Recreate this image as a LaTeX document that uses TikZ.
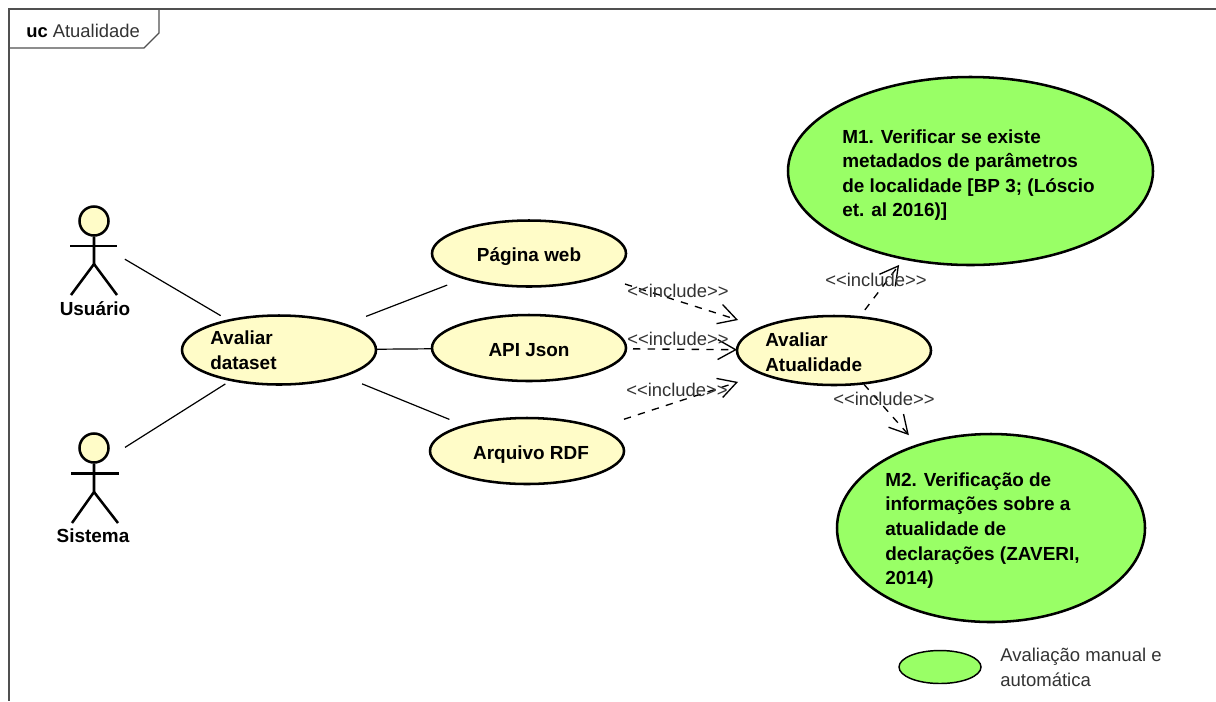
\documentclass[tikz,border=0pt]{standalone}
\usepackage{fontspec}
\setmainfont{Liberation Sans}
\usetikzlibrary{arrows.meta,shapes.geometric}
\newcommand{\px}[1]{#1*0.75pt}
\definecolor{ucyellow}{HTML}{FFFCC8}
\definecolor{ucgreen}{HTML}{99FF66}
\definecolor{frameline}{HTML}{505050}
\definecolor{thintext}{HTML}{333333}
\tikzset{
  usecase/.style={ellipse,draw=black,line width=1.9pt,fill=ucyellow,inner sep=0pt,outer sep=0pt,
    minimum width=\px{194},minimum height=\px{66},text height=12pt,text depth=0pt,font=\fontsize{14.2}{18}\selectfont\bfseries},
  metric/.style={ellipse,draw=black,line width=1.9pt,fill=ucgreen,inner sep=0pt,outer sep=0pt},
  boldtext/.style={anchor=west,align=left,inner sep=0pt,font=\fontsize{14.2}{18.5}\selectfont\bfseries},
  actorhead/.style={circle,draw=black,line width=1.9pt,fill=ucyellow,inner sep=0pt,minimum size=\px{29}},
  actorline/.style={draw=black,line width=1.9pt},
  actorbox/.style={inner sep=0pt,minimum size=1pt},
  assoc/.style={draw=black,line width=0.9pt},
  incl/.style={draw=black,line width=1pt,dash pattern=on 5.5pt off 5.5pt,
    -{Straight Barb[length=13.5pt,width=15pt,line width=1pt]}},
  incllabel/.style={inner sep=0pt,text=thintext,font=\fontsize{13.8}{16}\selectfont},
  thinlabel/.style={anchor=west,align=left,inner sep=0pt,text=thintext,font=\fontsize{13.9}{18.6}\selectfont},
  framerule/.style={draw=frameline,line width=0.9pt},
}
\begin{document}
\begin{tikzpicture}[x=0.75pt,y=-0.75pt]
\useasboundingbox (0,0) rectangle (1216,701);
\fill[white] (0,0) rectangle (1216,701);
% frame
\coordinate (frameTR) at (1216,9);
\coordinate (frameTL) at (9,9);
\coordinate (frameBL) at (9,701);
\draw[framerule] (frameTR) -- (frameTL) -- (frameBL);
\draw[framerule] (9,48) -- (144,48) -- (159,33) -- (159,9);
\node[anchor=west,inner sep=0pt,text=thintext] (frametitle) at (26,31)
  {\fontsize{13.8}{15}\selectfont\bfseries\textcolor{black}{uc}\mdseries\ Atualidade};
% use cases
\node[usecase,minimum height=\px{69}] (aval) at (279,350) {};
\node[boldtext] (avaltext) at (210,350) {Avaliar\\dataset};
\node[usecase] (pagina) at (529,253.5) {Página web};
\node[usecase] (api) at (529,348) {API Json};
\node[usecase] (arquivo) at (527,451) {\hspace*{6pt}Arquivo RDF};
\node[usecase,minimum height=\px{69}] (atual) at (834,350.5) {};
\node[boldtext] (atualtext) at (765,352) {Avaliar\\Atualidade};
\node[metric,minimum width=\px{365},minimum height=\px{188}] (mone) at (970.5,171) {};
\node[boldtext,font=\fontsize{14.2}{18.3}\selectfont\bfseries] (monetext) at (842,175)
  {M1. Verificar se existe\\metadados de parâmetros\\de localidade [BP 3; (Lóscio\\et. al 2016)]};
\node[metric,minimum width=\px{308},minimum height=\px{188}] (mtwo) at (991,528) {};
\node[boldtext] (mtwotext) at (885,530.5)
  {M2. Verificação de\\informações sobre a\\atualidade de\\declarações (ZAVERI,\\2014)};
% actors
\node[actorhead] (uhead) at (94,221) {};
\draw[actorline] (uhead) -- (94,264) -- (71,295);
\draw[actorline] (94,264) -- (117,295);
\draw[actorline] (70,246) -- (117,246);
\node[actorbox] (usuario) at (94,241) {};
\node[inner sep=0pt,font=\fontsize{14.2}{16}\selectfont\bfseries] (usuariolabel) at (95,309) {Usuário};
\node[actorhead] (shead) at (94,448) {};
\draw[actorline] (shead) -- (94,492) -- (72,523);
\draw[actorline] (94,492) -- (118,523);
\draw[actorline] (71,473.5) -- (119,473.5);
\node[actorbox] (sistema) at (94,467) {};
\node[inner sep=0pt,font=\fontsize{14.2}{16}\selectfont\bfseries] (sistemalabel) at (93,536) {Sistema};
% associations
\draw[assoc,shorten <=\px{35.8},shorten >=\px{67.7}] (usuario.center) -- (aval.center);
\draw[assoc,shorten <=\px{36.7},shorten >=\px{63.5}] (sistema.center) -- (aval.center);
\draw[assoc,shorten <=\px{93.4},shorten >=\px{87.7}] (aval.center) -- (pagina.center);
\draw[assoc,shorten <=\px{97},shorten >=\px{97}] (aval.center) -- (api.center);
\draw[assoc,shorten <=\px{89.7},shorten >=\px{83.8}] (aval.center) -- (arquivo.center);
% includes
\draw[incl,shorten <=\px{100.7},shorten >=\px{100.7}] (pagina.center) -- (atual.center);
\draw[incl,shorten <=\px{104},shorten >=\px{97}] (api.center) -- (atual.center);
\draw[incl,shorten <=\px{102},shorten >=\px{101}] (arquivo.center) -- (atual.center);
\draw[incl,shorten <=\px{51},shorten >=\px{118}] (atual.center) -- (mone.center);
\draw[incl,shorten <=\px{45},shorten >=\px{124}] (atual.center) -- (mtwo.center);
\node[incllabel] (inclA) at (678,291) {<{}<include>{}>};
\node[incllabel] (inclB) at (678,339) {<{}<include>{}>};
\node[incllabel] (inclC) at (677,390) {<{}<include>{}>};
\node[incllabel] (inclD) at (876,280) {<{}<include>{}>};
\node[incllabel] (inclE) at (884,399) {<{}<include>{}>};
% legend
\node[ellipse,draw=black,line width=1.1pt,fill=ucgreen,inner sep=0pt,minimum width=\px{82},minimum height=\px{33}] (legend) at (940,667) {};
\node[thinlabel] (legendtext) at (1000,667) {Avaliação manual e\\automática};
\end{tikzpicture}
\end{document}
